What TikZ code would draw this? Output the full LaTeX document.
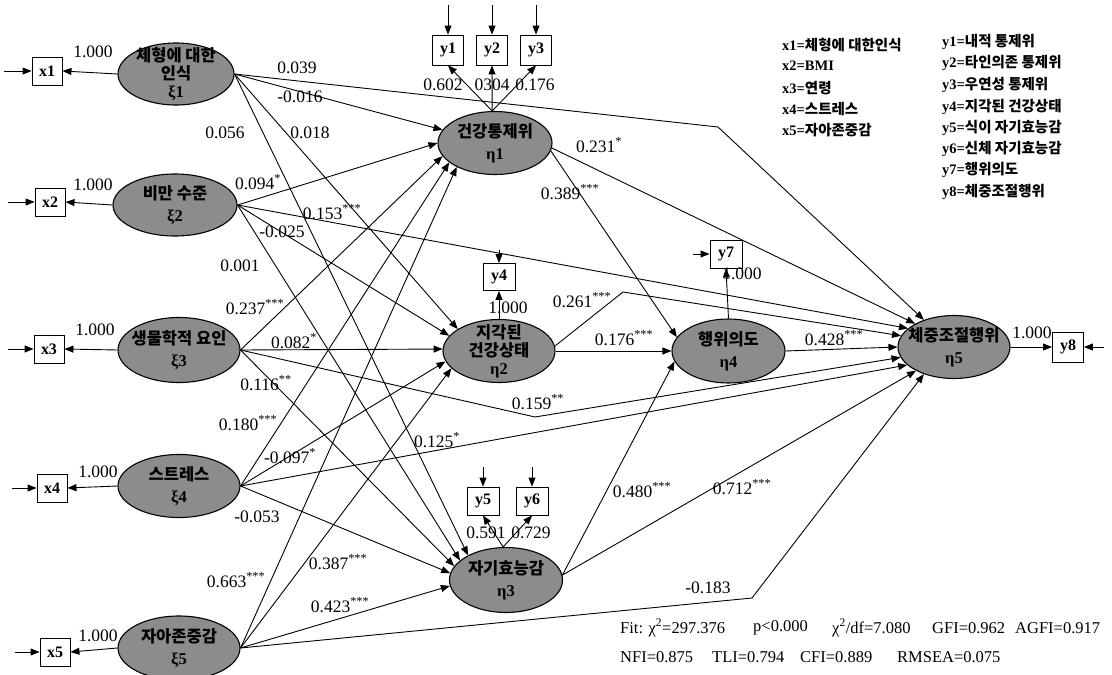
\documentclass[tikz,border=0pt]{standalone}
\usepackage{fontspec}
\setmainfont{Liberation Serif}
\newfontfamily\korfont{Noto Sans CJK KR}
\newcommand\kor[1]{{\korfont #1}}
\usetikzlibrary{shapes.geometric,arrows.meta,calc}
\begin{document}
\begin{tikzpicture}[x=1pt,y=-1pt,
  lat/.style={ellipse,draw,line width=1.1pt,fill=black!45,inner sep=0pt},
  lattext/.style={align=center,inner sep=0pt,font=\fontsize{16.5}{18}\selectfont\bfseries},
  obs/.style={draw,line width=0.9pt,fill=white,minimum width=30pt,minimum height=28pt,inner sep=0pt,font=\fontsize{16}{18}\selectfont\bfseries},
  pth/.style={line width=0.9pt,-{Triangle[length=9pt,width=7pt]}},
  lab/.style={inner sep=0pt,font=\fontsize{17.5}{19}\selectfont},
  leg/.style={anchor=west,inner sep=0pt,font=\fontsize{14.5}{16}\selectfont\bfseries},
  fit/.style={anchor=west,inner sep=0pt,font=\fontsize{16.5}{18}\selectfont},
]
\useasboundingbox (0,0) rectangle (1112,675);
% latent exogenous
\node[lat,minimum width=116pt,minimum height=62pt] (e1) at (176,74) {};
\node[lattext] (t1) at (e1) {\kor{체형에 대한}\\\kor{인식}\\ξ1};
\node[lat,minimum width=124pt,minimum height=62pt] (e2) at (175,205) {};
\node[lattext] (t2) at (e2) {\kor{비만 수준}\\[4pt]ξ2};
\node[lat,minimum width=122pt,minimum height=65pt] (e3) at (179,350) {};
\node[lattext] (t3) at (e3) {\kor{생물학적 요인}\\[4pt]ξ3};
\node[lat,minimum width=122pt,minimum height=63pt] (e4) at (179,486) {};
\node[lattext] (t4) at (e4) {\kor{스트레스}\\[4pt]ξ4};
\node[lat,minimum width=122pt,minimum height=64pt] (e5) at (179,648) {};
\node[lattext] (t5) at (e5) {\kor{자아존중감}\\[4pt]ξ5};
% latent endogenous
\node[lat,minimum width=114pt,minimum height=63pt] (n1) at (495,143) {};
\node[lattext] (u1) at (n1) {\kor{건강통제위}\\[4pt]η1};
\node[lat,minimum width=112pt,minimum height=63pt] (n2) at (499,351) {};
\node[lattext] (u2) at (n2) {\kor{지각된}\\\kor{건강상태}\\η2};
\node[lat,minimum width=113pt,minimum height=65pt] (n3) at (506,580) {};
\node[lattext] (u3) at (n3) {\kor{자기효능감}\\[4pt]η3};
\node[lat,minimum width=113pt,minimum height=64pt] (n4) at (728.5,351) {};
\node[lattext] (u4) at (n4) {\kor{행위의도}\\[4pt]η4};
\node[lat,minimum width=112pt,minimum height=63pt] (n5) at (954,347) {};
\node[lattext] (u5) at (n5) {\kor{체중조절행위}\\[4pt]η5};
% observed boxes
\node[obs] (x1) at (47,71) {x1};
\node[obs] (x2) at (50,202) {x2};
\node[obs] (x3) at (49,349) {x3};
\node[obs] (x4) at (52,488) {x4};
\node[obs] (x5) at (55,652) {x5};
\node[obs,minimum width=31pt,minimum height=30pt] (y1) at (448,50) {y1};
\node[obs,minimum width=31pt,minimum height=30pt] (y2) at (492,50) {y2};
\node[obs,minimum width=31pt,minimum height=30pt] (y3) at (536,50) {y3};
\node[obs,minimum width=32pt,minimum height=27pt] (y4) at (499,277) {y4};
\node[obs,minimum width=32pt,minimum height=28pt] (y5) at (483,501) {y5};
\node[obs,minimum width=32pt,minimum height=28pt] (y6) at (532,501) {y6};
\node[obs,minimum width=32pt,minimum height=28pt] (y7) at (726,254) {y7};
\node[obs,minimum width=31pt,minimum height=30pt] (y8) at (1068,347) {y8};
% error sources
\coordinate (ex1) at (4,71);
\coordinate (ex2) at (8,202);
\coordinate (ex3) at (8,349);
\coordinate (ex4) at (12,488);
\coordinate (ex5) at (15,652);
\coordinate (ey1) at (448,5);
\coordinate (ey2) at (492,5);
\coordinate (ey3) at (536,5);
\coordinate (ey4) at (499,250);
\coordinate (ey5) at (483,467);
\coordinate (ey6) at (532,467);
\coordinate (ey7) at (693,254);
\coordinate (ey8) at (1104,347);
\foreach \a/\b in {ex1/x1.west,ex2/x2.west,ex3/x3.west,ex4/x4.west,ex5/x5.west,
  ey1/y1.north,ey2/y2.north,ey3/y3.north,ey4/y4.north,ey5/y5.north,ey6/y6.north,
  ey7/y7.west,ey8/y8.east}
  \draw[pth] (\a) -- (\b);
% measurement paths
\draw[pth] (e1.west) -- (x1.east);
\draw[pth] (e2.west) -- (x2.east);
\draw[pth] (e3.west) -- (x3.east);
\draw[pth] (e4.west) -- (x4.east);
\draw[pth] (e5.west) -- (x5.east);
\draw[pth] (n1.95) -- (y1.south);
\draw[pth] (n1.95) -- (y2.south);
\draw[pth] (n1.95) -- (y3.south);
\draw[pth] (n2.north) -- (y4.south);
\draw[pth] (n3.95) -- (y5.south);
\draw[pth] (n3.95) -- (y6.south);
\draw[pth] (n4.north) -- (y7.south);
\draw[pth] (n5.east) -- (y8.west);
% bend points
\coordinate (b1) at (718,127);
\coordinate (b2) at (623,292);
\coordinate (b3) at (535,417);
\coordinate (b5) at (752,598);
% structural paths: xi1
\draw[pth] (e1.east) -- (b1) -- (n5.138);
\draw[pth] (e1.east) -- (n1.166);
\draw[pth] (e1.east) -- (n2.152);
\draw[pth] (e1.east) -- (n3.147);
% xi2
\draw[pth] (e2.east) -- (n1.180);
\draw[pth] (e2.east) -- (n5.158);
\draw[pth] (e2.east) -- (n2.163);
\draw[pth] (e2.east) -- (n3.157);
% xi3
\draw[pth] (e3.east) -- (n1.194);
\draw[pth] (e3.east) -- (n2.178);
\draw[pth] (e3.east) -- (n3.165);
\draw[pth] (e3.east) -- (b3) -- (n5.191);
% xi4
\draw[pth] (e4.east) -- (n1.203);
\draw[pth] (e4.east) -- (n2.191);
\draw[pth] (e4.east) -- (n5.201);
\draw[pth] (e4.east) -- (n3.173);
% xi5
\draw[pth] (e5.east) -- (n1.212);
\draw[pth] (e5.east) -- (n2.200);
\draw[pth] (e5.east) -- (n3.186);
\draw[pth] (e5.east) -- (b5) -- (n5.222);
% eta paths
\draw[pth] (n1.355) -- (n5.149);
\draw[pth] (n1.352) -- (n4.165);
\draw[pth] (n2.east) -- (n4.west);
\draw[pth] (n2.5) -- (b2) -- (n5.168);
\draw[pth] (n3.5) -- (n4.191);
\draw[pth] (n3.5) -- (n5.212);
\draw[pth] (n4.east) -- (n5.west);
% loading labels
\node[lab] (lx1) at (93,52) {1.000};
\node[lab] (lx2) at (93,185) {1.000};
\node[lab] (lx3) at (95,330) {1.000};
\node[lab] (lx4) at (98,472) {1.000};
\node[lab] (lx5) at (98,636) {1.000};
\node[lab] (ly1) at (443,85) {0.602};
\node[lab] (ly2) at (492,85) {0304};
\node[lab] (ly3) at (535,85) {0.176};
\node[lab] (ly4) at (508,308) {1.000};
\node[lab] (ly5) at (486,533) {0.591};
\node[lab] (ly6) at (531,533) {0.729};
\node[lab] (ly7) at (742,274) {1.000};
\node[lab] (ly8) at (1032,333) {1.000};
% structural labels
\node[lab] (s1) at (297,68) {0.039};
\node[lab] (s2) at (300,97) {-0.016};
\node[lab] (s3) at (310,133) {0.018};
\node[lab] (s4) at (225,133) {0.056};
\node[lab] (s5) at (258,182) {0.094\textsuperscript{*}};
\node[lab] (s6) at (332,212) {0.153\textsuperscript{***}};
\node[lab] (s7) at (282,232) {-0.025};
\node[lab] (s8) at (240,266) {0.001};
\node[lab] (s9) at (255,307) {0.237\textsuperscript{***}};
\node[lab] (s10) at (294,341) {0.082\textsuperscript{*}};
\node[lab] (s11) at (266,383) {0.116\textsuperscript{**}};
\node[lab] (s12) at (538,402) {0.159\textsuperscript{**}};
\node[lab] (s13) at (248,423) {0.180\textsuperscript{***}};
\node[lab] (s14) at (290,456) {-0.097\textsuperscript{*}};
\node[lab] (s15) at (437,440) {0.125\textsuperscript{*}};
\node[lab] (s16) at (257,517) {-0.053};
\node[lab] (s17) at (236,580) {0.663\textsuperscript{***}};
\node[lab] (s18) at (338,562) {0.387\textsuperscript{***}};
\node[lab] (s19) at (340,605) {0.423\textsuperscript{***}};
\node[lab] (s20) at (708,588) {-0.183};
\node[lab] (s21) at (599,145) {0.231\textsuperscript{*}};
\node[lab] (s22) at (570,192) {0.389\textsuperscript{***}};
\node[lab] (s23) at (624,338) {0.176\textsuperscript{***}};
\node[lab] (s24) at (582,300) {0.261\textsuperscript{***}};
\node[lab] (s25) at (642,490) {0.480\textsuperscript{***}};
\node[lab] (s26) at (742,487) {0.712\textsuperscript{***}};
\node[lab] (s27) at (834,338) {0.428\textsuperscript{***}};
% legend
\node[leg] (g1) at (782,45) {x1=\kor{체형에 대한인식}};
\node[leg] (g2) at (782,66) {x2=BMI};
\node[leg] (g3) at (782,88) {x3=\kor{연령}};
\node[leg] (g4) at (782,109) {x4=\kor{스트레스}};
\node[leg] (g5) at (782,130) {x5=\kor{자아존중감}};
\node[leg] (h1) at (942,42) {y1=\kor{내적 통제위}};
\node[leg] (h2) at (942,63) {y2=\kor{타인의존 통제위}};
\node[leg] (h3) at (942,85) {y3=\kor{우연성 통제위}};
\node[leg] (h4) at (942,107) {y4=\kor{지각된 건강상태}};
\node[leg] (h5) at (942,128) {y5=\kor{식이 자기효능감}};
\node[leg] (h6) at (942,149) {y6=\kor{신체 자기효능감}};
\node[leg] (h7) at (942,170) {y7=\kor{행위의도}};
\node[leg] (h8) at (942,192) {y8=\kor{체중조절행위}};
% fit indices
\node[fit] (f1) at (620,628) {Fit: χ\textsuperscript{2}=297.376};
\node[fit] (f2) at (753,628) {p<0.000};
\node[fit] (f3) at (832,628) {χ\textsuperscript{2}/df=7.080};
\node[fit] (f4) at (932,628) {GFI=0.962};
\node[fit] (f5) at (1015,628) {AGFI=0.917};
\node[fit] (f6) at (620,657) {NFI=0.875};
\node[fit] (f7) at (712,657) {TLI=0.794};
\node[fit] (f8) at (800,657) {CFI=0.889};
\node[fit] (f9) at (897,657) {RMSEA=0.075};
\end{tikzpicture}
\end{document}
